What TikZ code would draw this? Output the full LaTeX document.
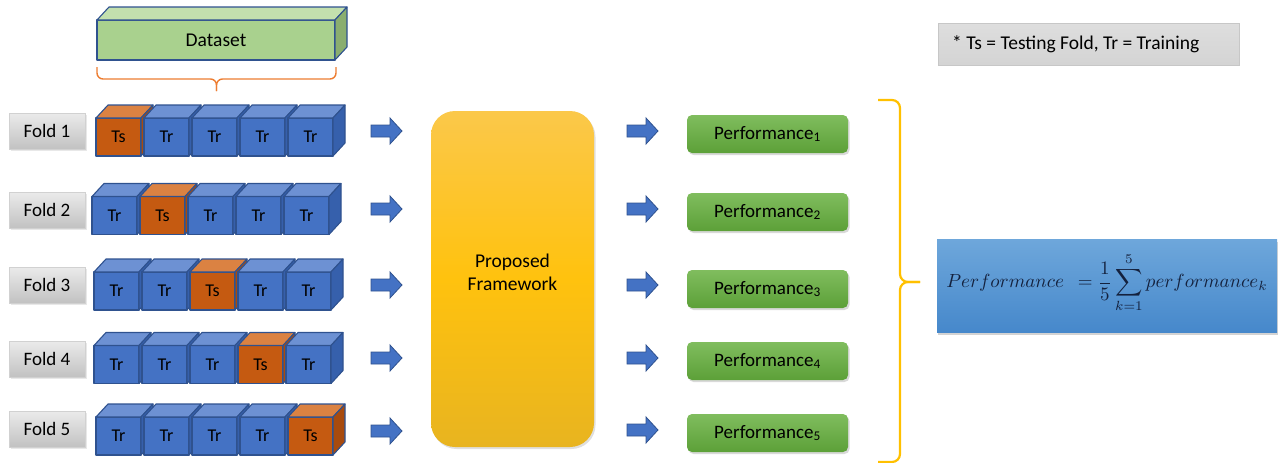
\documentclass[tikz,border=0pt]{standalone}
\usepackage{amsmath}
\usepackage{fontspec}
\setmainfont{Carlito}
\usetikzlibrary{shadows}

\definecolor{edgeblue}{HTML}{2F528F}
\definecolor{trfront}{HTML}{4472C4}
\definecolor{trtop}{HTML}{6D91D3}
\definecolor{trside}{HTML}{3660AC}
\definecolor{tsfront}{HTML}{C55A11}
\definecolor{tstop}{HTML}{DB8242}
\definecolor{tsside}{HTML}{A84B0E}
\definecolor{dsfront}{HTML}{A9D18E}
\definecolor{dstop}{HTML}{C3E0AE}
\definecolor{dsside}{HTML}{8AAE6F}
\definecolor{bracketorange}{HTML}{ED7D31}
\definecolor{braceyellow}{HTML}{FFC000}
\definecolor{perftop}{HTML}{80BD5E}
\definecolor{perfbot}{HTML}{5CA038}
\definecolor{fwtop}{HTML}{FBC84A}
\definecolor{fwmid}{HTML}{FFC20E}
\definecolor{fwbot}{HTML}{E8B420}
\definecolor{formtop}{HTML}{6EA7DB}
\definecolor{formbot}{HTML}{4688CB}
\definecolor{formtext}{HTML}{14213D}

% one cube of a fold row: name, x, y (front centre), kind (tr/ts), label
\newcommand\foldcube[5]{%
  \node[cubefront, fill=#4front] (#1) at ({#2},{#3}) {#5};
  \draw[cubeedge, fill=#4top] (#1.north west) -- ++(12,-13) -- ++(45,0) -- (#1.north east) -- cycle;
  \draw[cubeedge, fill=#4side] (#1.north east) -- ++(12,-13) -- ++(0,38) -- (#1.south east) -- cycle;
}

% block arrow pointing right, centred on a named coordinate: name, x, y
\newcommand\blockarrow[3]{%
  \coordinate (#1) at (#2,#3);
  \draw[blockarrowstyle] (#1) ++(-15.5,-6) -- ++(19,0) -- ++(0,-7) -- ++(12,13)
    -- ++(-12,13) -- ++(0,-7) -- ++(-19,0) -- cycle;
}

\tikzset{
  cubeedge/.style={draw=edgeblue, line width=1.1pt, line join=round},
  cubefront/.style={cubeedge, minimum width=45pt, minimum height=38pt, inner sep=0pt,
    outer sep=0pt, font=\fontsize{18}{18}\selectfont, text=black},
  foldlabel/.style={draw=black!18, top color=black!8, bottom color=black!24,
    minimum width=76pt, minimum height=36pt, inner sep=0pt,
    font=\fontsize{19}{19}\selectfont,
    drop shadow={opacity=0.18, shadow xshift=1.5pt, shadow yshift=-1.5pt}},
  blockarrowstyle/.style={draw=edgeblue, fill=trfront, line width=0.8pt, line join=miter},
  perfbox/.style={rounded corners=5pt, top color=perftop, bottom color=perfbot,
    minimum width=161pt, minimum height=38pt, inner sep=0pt,
    font=\fontsize{19}{19}\selectfont,
    drop shadow={opacity=0.3, shadow xshift=1.5pt, shadow yshift=-2pt}},
}

\begin{document}
\begin{tikzpicture}[x=1pt,y=-1pt]
\useasboundingbox (0,0) rectangle (1285,463);

% dataset block
\node[cubeedge, fill=dsfront, minimum width=238pt, minimum height=40pt, inner sep=0pt,
  outer sep=0pt, font=\fontsize{19.5}{19.5}\selectfont] (data) at (216,40) {Dataset};
\draw[cubeedge, fill=dstop] (data.north west) -- ++(12,-13) -- ++(238,0) -- (data.north east) -- cycle;
\draw[cubeedge, fill=dsside] (data.north east) -- ++(12,-13) -- ++(0,40) -- (data.south east) -- cycle;

% bracket under the dataset
\coordinate (bl) at (97,67);
\coordinate (br) at (336,67);
\coordinate (btip) at (216.5,91);
\draw[bracketorange, line width=1.4pt, rounded corners=6pt]
  (bl) -- (97,79) -- (216.5,79) -- (btip);
\draw[bracketorange, line width=1.4pt, rounded corners=6pt]
  (br) -- (336,79) -- (216.5,79) -- (btip);

% fold rows: index / label centre y / cube centre y / first cube x / arrow y / right arrow y / performance y
\foreach \r/\yl/\yc/\xs/\ya/\yb/\yp in {
    1/131/137/96/131/131/134,
    2/210/215.5/92/209/209/212,
    3/285/291/94/285/285/289,
    4/359/364.5/94/358/358/361,
    5/429/436/96/431/430/433}{
  \node[foldlabel] (fold\r) at (47,\yl) {Fold \r};
  \foreach \c in {1,...,5}{
    \ifnum\c=\r
      \foldcube{c\r\c}{\xs+22.5+(\c-1)*48}{\yc}{ts}{Ts}
    \else
      \foldcube{c\r\c}{\xs+22.5+(\c-1)*48}{\yc}{tr}{Tr}
    \fi
  }
  \blockarrow{la\r}{386.5}{\ya}
  \blockarrow{ra\r}{642.5}{\yb}
  \node[perfbox] (perf\r) at (767.5,\yp) {Performance\textsubscript{\r}};
}

% framework block
\node[rounded corners=24pt, top color=fwtop, bottom color=fwbot, middle color=fwmid,
  minimum width=163pt, minimum height=336pt, inner sep=0pt,
  drop shadow={opacity=0.25, shadow xshift=1.5pt, shadow yshift=-2pt}] (fw) at (512.5,279) {};
\node[font=\fontsize{19.5}{23}\selectfont, align=center] (fwtext) at (512.5,272)
  {Proposed\\Framework};

% brace gathering the five results
\coordinate (rt) at (878,100);
\coordinate (rb) at (878,462);
\coordinate (rtip) at (920,282);
\draw[braceyellow, line width=2.2pt, rounded corners=8pt]
  (rt) -- (900,100) -- (900,282) -- (rtip);
\draw[braceyellow, line width=2.2pt, rounded corners=8pt]
  (rb) -- (900,462) -- (900,282) -- (rtip);

% legend
\node[draw=black!22, top color=black!13, bottom color=black!17,
  minimum width=301pt, minimum height=42pt, inner sep=0pt] (legend) at (1088.5,44) {};
\node[anchor=west, font=\fontsize{19.5}{19.5}\selectfont, inner sep=0pt] (legendtext)
  at (952,44) {* Ts = Testing Fold, Tr = Training};

% averaged performance (set at 10pt, then enlarged so the large operators scale too)
\node[top color=formtop, bottom color=formbot, minimum width=340pt, minimum height=93pt,
  inner sep=0pt,
  drop shadow={opacity=0.35, shadow xshift=1pt, shadow yshift=-2.5pt}] (avg) at (1107,285.5) {};
\node[scale=1.9, transform shape, inner sep=0pt, text=formtext] (avgtext) at (1107,283)
  {$\displaystyle Performance\ \ =\frac{1}{5}\sum_{k=1}^{5} performance_k$};
\end{tikzpicture}
\end{document}
